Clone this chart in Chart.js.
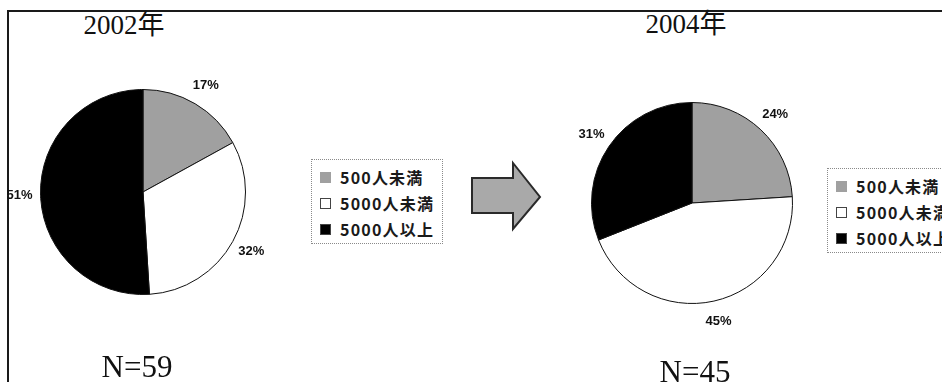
<!DOCTYPE html>
<html>
<head>
<meta charset="utf-8">
<script src="https://cdn.jsdelivr.net/npm/chart.js@4.4.0/dist/chart.umd.min.js"></script>
<style>
  html, body { margin: 0; padding: 0; background: #fff; }
  #page { position: relative; width: 942px; height: 382px; overflow: hidden; background: #fff; }
  #frame { position: absolute; left: 7px; top: 10px; width: 960px; height: 400px;
           border-top: 2px solid #1a1a1a; border-left: 2px solid #1a1a1a; }
  canvas { position: absolute; top: 0; }
  .year, .count { position: absolute; font-family: "Liberation Serif", "Noto Sans CJK JP", serif;
                  color: #111; line-height: 1; white-space: nowrap; transform: translateX(-50%); }
  .year { font-size: 27px; }
  .count { font-size: 31px; }
  .legend { position: absolute; width: 130px; border: 1px dotted #8a8a8a; padding: 4px 0 1px 0;
            background: #fff; font-family: "Noto Sans CJK JP", "Liberation Sans", sans-serif;
            font-weight: bold; font-size: 16px; letter-spacing: 1.2px; color: #1a1a1a; }
  .legend .row { height: 26px; display: flex; align-items: center; white-space: nowrap; }
  .legend .box { width: 9px; height: 9px; margin: 0 9px 0 8px; border: 1px solid #444; flex: none; }
  #arrow { position: absolute; left: 0; top: 0; }
</style>
</head>
<body>
<div id="page">
  <div id="frame"></div>

  <div class="year" style="left:124px; top:12px;">2002年</div>
  <div class="year" style="left:686px; top:11px;">2004年</div>

  <canvas id="pie2002" width="300" height="382" style="left:0px;"></canvas>
  <canvas id="pie2004" width="382" height="382" style="left:560px;"></canvas>

  <div class="legend" id="legend2002" style="left:311px; top:159px;"></div>
  <div class="legend" id="legend2004" style="left:827px; top:168px;"></div>

  <svg id="arrow" width="942" height="382">
    <polygon points="472,178 513,178 513,163 540,197 513,229 513,213 472,213"
             fill="#a9a9a9" stroke="#2a2a2a" stroke-width="2" stroke-linejoin="miter"/>
  </svg>

  <div class="count" style="left:137px; top:351px;">N=59</div>
  <div class="count" style="left:695px; top:356px;">N=45</div>
</div>

<script>
// company size groups and share (%) per survey year
var categories = ['500人未満', '5000人未満', '5000人以上'];
var share2002 = [17, 32, 51];
var share2004 = [24, 45, 31];
var sliceColors = ['#a0a0a0', '#ffffff', '#000000'];

// percent labels just outside each slice
var outsideLabels = {
  id: 'outsideLabels',
  afterDatasetsDraw: function(chart) {
    var ctx = chart.ctx;
    var ds = chart.data.datasets[0];
    ctx.save();
    ctx.font = 'bold 13px "Liberation Sans", sans-serif';
    ctx.fillStyle = '#111';
    ctx.textAlign = 'center';
    ctx.textBaseline = 'middle';
    chart.getDatasetMeta(0).data.forEach(function(arc, i) {
      var p = arc.getProps(['x', 'y', 'startAngle', 'endAngle', 'outerRadius'], true);
      var mid = (p.startAngle + p.endAngle) / 2;
      var r = p.outerRadius + 21;
      ctx.fillText(ds.data[i] + '%', p.x + Math.cos(mid) * r, p.y + Math.sin(mid) * r);
    });
    ctx.restore();
  }
};

function makePie(id, values, pad) {
  return new Chart(document.getElementById(id), {
    type: 'pie',
    data: {
      labels: categories,
      datasets: [{
        data: values,
        backgroundColor: sliceColors,
        borderColor: '#111',
        borderWidth: 1
      }]
    },
    options: {
      responsive: false,
      animation: false,
      devicePixelRatio: 1,
      layout: { padding: pad },
      plugins: {
        legend: { display: false },
        tooltip: { enabled: false }
      }
    },
    plugins: [outsideLabels]
  });
}

makePie('pie2002', share2002, { left: 40, top: 89, right: 54, bottom: 87 });
makePie('pie2004', share2004, { left: 31, top: 102, right: 149, bottom: 78 });

// legend boxes built from the same categories / colours
function buildLegend(id) {
  var el = document.getElementById(id);
  categories.forEach(function(name, i) {
    var row = document.createElement('div');
    row.className = 'row';
    var box = document.createElement('span');
    box.className = 'box';
    box.style.background = sliceColors[i];
    if (i === 0) box.style.borderColor = '#a0a0a0';
    var txt = document.createElement('span');
    txt.textContent = name;
    row.appendChild(box);
    row.appendChild(txt);
    el.appendChild(row);
  });
}
buildLegend('legend2002');
buildLegend('legend2004');
</script>
</body>
</html>
